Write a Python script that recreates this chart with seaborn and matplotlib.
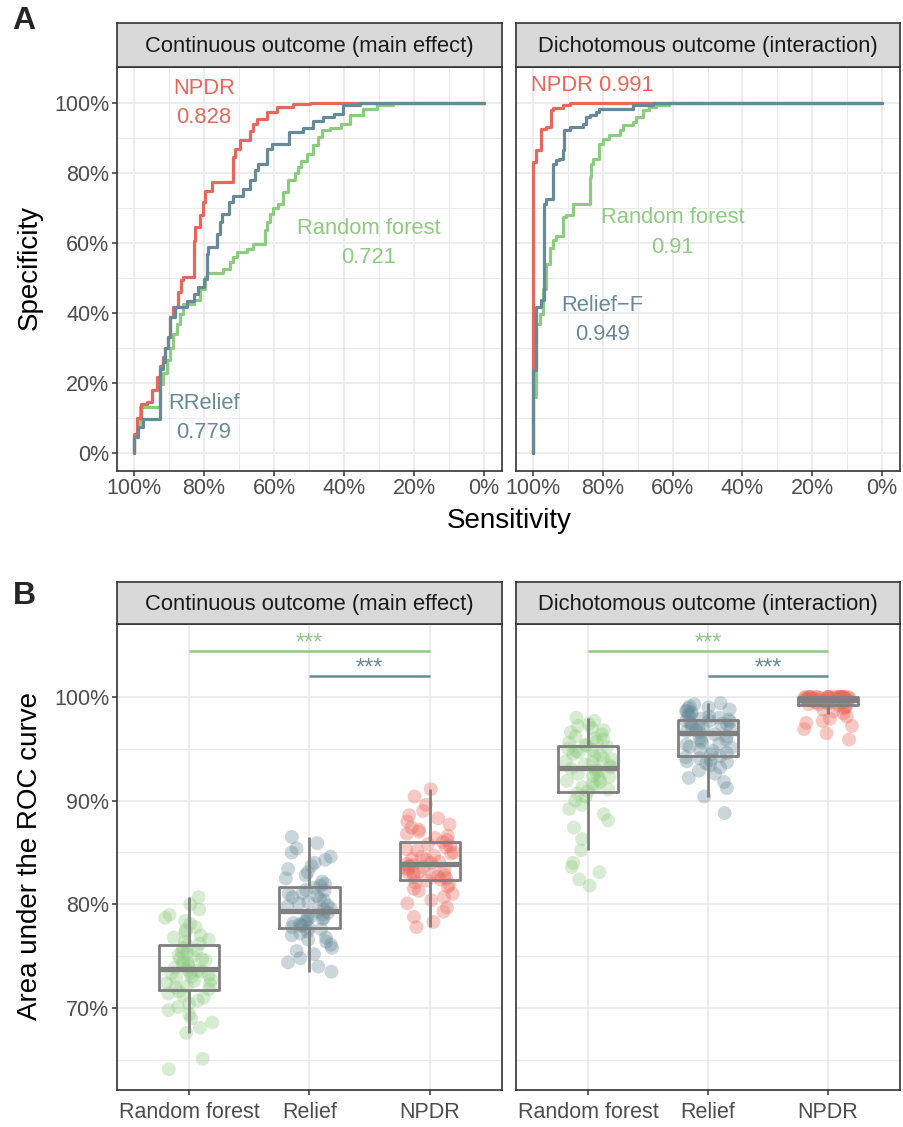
import numpy as np
import pandas as pd
import matplotlib
matplotlib.use("Agg")
import matplotlib.pyplot as plt
import seaborn as sns

sns.set_style("white")
plt.rcParams['font.family'] = ['Liberation Sans', 'DejaVu Sans']

# ---------------- data ----------------
facets = ["Continuous outcome (main effect)", "Dichotomous outcome (interaction)"]
methods = ["Random forest", "Relief", "NPDR"]
colors = {"Random forest": "#8DCB80", "Relief": "#688A98", "NPDR": "#E9665A"}

# ROC curves (sensitivity, specificity), panel A
roc_cont_rf_sens = [1.0, 0.99, 0.983, 0.959, 0.926, 0.916, 0.907, 0.897, 0.888, 0.878, 0.869, 0.859, 0.83, 0.811, 0.797,
                    0.792, 0.745, 0.726, 0.716, 0.707, 0.678, 0.659, 0.626, 0.621, 0.612, 0.602, 0.588, 0.575, 0.559,
                    0.541, 0.531, 0.522, 0.507, 0.488, 0.474, 0.464, 0.44, 0.41, 0.383, 0.345, 0.307, 0.259, 0.211, 0.0]
roc_cont_rf_spec = [0.0, 0.05, 0.084, 0.131, 0.131, 0.198, 0.23, 0.265, 0.3, 0.341, 0.37, 0.398, 0.425, 0.436, 0.47,
                    0.503, 0.515, 0.527, 0.545, 0.56, 0.575, 0.584, 0.598, 0.636, 0.66, 0.684, 0.7, 0.712, 0.745,
                    0.779, 0.8, 0.817, 0.835, 0.855, 0.88, 0.903, 0.922, 0.93, 0.941, 0.965, 0.984, 0.993, 1.0, 1.0]
roc_cont_npdr_sens = [1.0, 0.992, 0.98, 0.964, 0.95, 0.935, 0.926, 0.918, 0.911, 0.904, 0.897, 0.888, 0.873, 0.866,
                      0.859, 0.83, 0.826, 0.811, 0.803, 0.797, 0.778, 0.716, 0.712, 0.697, 0.669, 0.66, 0.65, 0.621,
                      0.592, 0.545, 0.497, 0.4, 0.0]
roc_cont_npdr_spec = [0.0, 0.055, 0.1, 0.14, 0.146, 0.18, 0.217, 0.25, 0.274, 0.3, 0.331, 0.389, 0.417, 0.46, 0.493,
                      0.503, 0.607, 0.645, 0.68, 0.717, 0.75, 0.774, 0.846, 0.87, 0.893, 0.92, 0.94, 0.955, 0.974,
                      0.989, 0.998, 1.0, 1.0]
roc_cont_relief_sens = [1.0, 1.0, 0.988, 0.973, 0.926, 0.926, 0.918, 0.911, 0.904, 0.897, 0.883, 0.85, 0.83, 0.816,
                        0.8, 0.792, 0.788, 0.764, 0.755, 0.75, 0.73, 0.716, 0.69, 0.669, 0.655, 0.645, 0.621, 0.607,
                        0.556, 0.516, 0.49, 0.459, 0.43, 0.402, 0.354, 0.307, 0.0]
roc_cont_relief_spec = [0.0, 0.017, 0.046, 0.074, 0.098, 0.222, 0.24, 0.26, 0.3, 0.331, 0.389, 0.417, 0.435, 0.455,
                        0.475, 0.498, 0.57, 0.589, 0.625, 0.66, 0.684, 0.717, 0.735, 0.755, 0.78, 0.808, 0.827, 0.87,
                        0.884, 0.917, 0.93, 0.95, 0.96, 0.97, 0.993, 1.0, 1.0]

roc_dich_rf_sens = [1.0, 0.99, 0.99, 0.981, 0.971, 0.962, 0.952, 0.943, 0.933, 0.914, 0.905, 0.886, 0.867, 0.838, 0.833,
                    0.829, 0.81, 0.8, 0.781, 0.752, 0.743, 0.714, 0.705, 0.686, 0.667, 0.648, 0.61, 0.495, 0.0]
roc_dich_rf_spec = [0.0, 0.16, 0.293, 0.37, 0.398, 0.47, 0.541, 0.585, 0.608, 0.62, 0.674, 0.679, 0.712, 0.712, 0.79,
                    0.827, 0.841, 0.884, 0.898, 0.908, 0.922, 0.936, 0.946, 0.96, 0.979, 0.988, 0.995, 1.0, 1.0]
roc_dich_npdr_sens = [1.0, 1.0, 0.99, 0.976, 0.962, 0.948, 0.943, 0.914, 0.895, 0.876, 0.0]
roc_dich_npdr_spec = [0.0, 0.712, 0.831, 0.865, 0.927, 0.932, 0.979, 0.986, 0.993, 1.0, 1.0]
roc_dich_relief_sens = [1.0, 1.0, 0.99, 0.976, 0.967, 0.962, 0.943, 0.943, 0.933, 0.924, 0.914, 0.91, 0.895, 0.857,
                        0.848, 0.838, 0.819, 0.81, 0.714, 0.657, 0.543, 0.0]
roc_dich_relief_spec = [0.0, 0.184, 0.236, 0.417, 0.436, 0.712, 0.727, 0.779, 0.827, 0.836, 0.841, 0.865, 0.922,
                        0.931, 0.941, 0.96, 0.965, 0.974, 0.984, 0.993, 1.0, 1.0]

# AUC labels in panel A
auc_labels_cont = {"Random forest": "Random forest\n0.721", "NPDR": "NPDR\n0.828", "Relief": "RRelief\n0.779"}
auc_labels_dich = {"Random forest": "Random forest\n0.91", "NPDR": "NPDR 0.991", "Relief": "Relief\u2212F\n0.949"}
auc_pos_cont = {"Random forest": (0.33, 0.60), "NPDR": (0.80, 1.00), "Relief": (0.80, 0.10)}
auc_pos_dich = {"Random forest": (0.60, 0.63), "NPDR": (0.83, 1.05), "Relief": (0.80, 0.38)}

# AUC replicates, panel B
auc_cont_rf = [0.641, 0.651, 0.676, 0.681, 0.686, 0.690, 0.694, 0.698, 0.701, 0.704, 0.707, 0.710, 0.712, 0.714, 0.716,
               0.718, 0.720, 0.721, 0.723, 0.724, 0.726, 0.727, 0.729, 0.730, 0.732, 0.733, 0.734, 0.735, 0.736, 0.737,
               0.739, 0.740, 0.741, 0.743, 0.744, 0.746, 0.747, 0.748, 0.750, 0.751, 0.753, 0.754, 0.756, 0.758, 0.760,
               0.762, 0.764, 0.766, 0.768, 0.770, 0.773, 0.775, 0.778, 0.781, 0.784, 0.787, 0.790, 0.795, 0.800, 0.807]
auc_cont_relief = [0.735, 0.740, 0.744, 0.748, 0.752, 0.755, 0.758, 0.761, 0.764, 0.766, 0.768, 0.770, 0.772, 0.774, 0.776,
                   0.777, 0.778, 0.779, 0.780, 0.781, 0.782, 0.783, 0.785, 0.786, 0.787, 0.788, 0.789, 0.790, 0.792, 0.793,
                   0.795, 0.796, 0.798, 0.799, 0.801, 0.802, 0.804, 0.805, 0.807, 0.808, 0.810, 0.811, 0.813, 0.814, 0.816,
                   0.818, 0.820, 0.822, 0.825, 0.828, 0.831, 0.834, 0.837, 0.840, 0.843, 0.846, 0.850, 0.854, 0.859, 0.865]
auc_cont_npdr = [0.778, 0.783, 0.788, 0.793, 0.797, 0.801, 0.804, 0.807, 0.810, 0.813, 0.815, 0.817, 0.819, 0.821, 0.823,
                 0.824, 0.825, 0.826, 0.827, 0.828, 0.829, 0.830, 0.831, 0.832, 0.833, 0.834, 0.835, 0.836, 0.837, 0.838,
                 0.839, 0.840, 0.841, 0.843, 0.844, 0.846, 0.847, 0.849, 0.850, 0.852, 0.853, 0.855, 0.856, 0.858, 0.860,
                 0.862, 0.864, 0.866, 0.868, 0.870, 0.872, 0.874, 0.877, 0.880, 0.883, 0.886, 0.890, 0.896, 0.904, 0.911]
auc_dich_rf = [0.818, 0.824, 0.831, 0.836, 0.840, 0.852, 0.863, 0.874, 0.881, 0.887, 0.892, 0.896, 0.900, 0.904, 0.907,
               0.909, 0.911, 0.913, 0.914, 0.916, 0.918, 0.919, 0.921, 0.923, 0.924, 0.926, 0.927, 0.929, 0.930, 0.931,
               0.932, 0.934, 0.935, 0.937, 0.938, 0.940, 0.941, 0.943, 0.944, 0.945, 0.947, 0.948, 0.949, 0.950, 0.952,
               0.953, 0.954, 0.956, 0.957, 0.959, 0.960, 0.962, 0.964, 0.966, 0.968, 0.970, 0.972, 0.974, 0.977, 0.980]
auc_dich_relief = [0.888, 0.904, 0.912, 0.918, 0.922, 0.926, 0.929, 0.932, 0.934, 0.936, 0.937, 0.938, 0.939, 0.941, 0.942,
                   0.943, 0.945, 0.946, 0.948, 0.949, 0.951, 0.952, 0.954, 0.955, 0.956, 0.958, 0.959, 0.960, 0.962, 0.964,
                   0.966, 0.967, 0.968, 0.969, 0.970, 0.971, 0.972, 0.973, 0.974, 0.974, 0.975, 0.976, 0.977, 0.977, 0.978,
                   0.979, 0.980, 0.981, 0.982, 0.983, 0.984, 0.985, 0.986, 0.987, 0.988, 0.989, 0.990, 0.991, 0.993, 0.994]
auc_dich_npdr = [0.959, 0.965, 0.969, 0.972, 0.975, 0.977, 0.979, 0.981, 0.984, 0.986, 0.988, 0.989, 0.990, 0.991, 0.992,
                 0.993, 0.993, 0.994, 0.994, 0.995, 0.995, 0.995, 0.996, 0.996, 0.996, 0.996, 0.997, 0.997, 0.997, 0.997,
                 0.997, 0.998, 0.998, 0.998, 0.998, 0.998, 0.999, 0.999, 0.999, 0.999, 0.999, 1.000, 1.000, 1.000, 1.000,
                 1.000, 1.000, 1.000, 1.000, 1.000, 1.000, 1.000, 1.000, 1.000, 1.000, 1.000, 1.000, 1.000, 1.000, 1.000]

# significance brackets (from, to, height, label)
sig_levels = [("Random forest", "NPDR", 1.044, "***"), ("Relief", "NPDR", 1.020, "***")]

y_ticks_A = [0, 0.2, 0.4, 0.6, 0.8, 1.0]
y_labels_A = ["0%", "20%", "40%", "60%", "80%", "100%"]
x_ticks_A = [1.0, 0.8, 0.6, 0.4, 0.2, 0.0]
x_labels_A = ["100%", "80%", "60%", "40%", "20%", "0%"]
y_ticks_B = [0.7, 0.8, 0.9, 1.0]
y_labels_B = ["70%", "80%", "90%", "100%"]

roc = {
    facets[0]: {"Random forest": (roc_cont_rf_sens, roc_cont_rf_spec),
                "NPDR": (roc_cont_npdr_sens, roc_cont_npdr_spec),
                "Relief": (roc_cont_relief_sens, roc_cont_relief_spec)},
    facets[1]: {"Random forest": (roc_dich_rf_sens, roc_dich_rf_spec),
                "NPDR": (roc_dich_npdr_sens, roc_dich_npdr_spec),
                "Relief": (roc_dich_relief_sens, roc_dich_relief_spec)},
}
auc_labels = {facets[0]: auc_labels_cont, facets[1]: auc_labels_dich}
auc_pos = {facets[0]: auc_pos_cont, facets[1]: auc_pos_dich}

rows = []
for f, d in zip(facets, [{"Random forest": auc_cont_rf, "Relief": auc_cont_relief, "NPDR": auc_cont_npdr},
                         {"Random forest": auc_dich_rf, "Relief": auc_dich_relief, "NPDR": auc_dich_npdr}]):
    for m, vals in d.items():
        for v in vals:
            rows.append((f, m, v))
df_auc = pd.DataFrame(rows, columns=["facet", "method", "auc"])

# ---------------- layout ----------------
W, H = 904, 1127
fig = plt.figure(figsize=(W / 100, H / 100), dpi=100)

def rect(x0, y0, x1, y1):
    return [x0 / W, 1 - y1 / H, (x1 - x0) / W, (y1 - y0) / H]

BORDER = "#333333"
GRID = "#EBEBEB"
TICKC = "#4D4D4D"

def style_panel(ax):
    ax.set_facecolor("white")
    for s in ax.spines.values():
        s.set_color(BORDER)
        s.set_linewidth(1.2)
        s.set_visible(True)
    ax.set_axisbelow(True)
    ax.grid(which="major", color=GRID, linewidth=1.3)
    ax.grid(which="minor", color=GRID, linewidth=0.7)
    ax.tick_params(which="major", length=3.5, width=1.1, color=BORDER, labelsize=15.5,
                   labelcolor=TICKC, pad=2, left=True, bottom=True)
    ax.tick_params(which="minor", length=0)

def strip(x0, y0, x1, y1, text):
    s = fig.add_axes(rect(x0, y0, x1, y1))
    s.set_facecolor("#D9D9D9")
    for sp in s.spines.values():
        sp.set_color(BORDER)
        sp.set_linewidth(1.2)
    s.set_xticks([]); s.set_yticks([])
    s.text(0.5, 0.47, text, ha="center", va="center", fontsize=15.8, color="#1A1A1A", transform=s.transAxes)

panel_x = [(117, 502), (516, 900)]

# ---- Panel A ----
for i, f in enumerate(facets):
    x0, x1 = panel_x[i]
    ax = fig.add_axes(rect(x0, 67, x1, 470.5))
    strip(x0, 23, x1, 67, f)
    for m in ["Random forest", "NPDR", "Relief"]:
        sens, spec = roc[f][m]
        sns.lineplot(x=sens, y=spec, sort=False, estimator=None, color=colors[m], linewidth=2.3,
                     drawstyle="steps-pre", ax=ax)
    for m in ["NPDR", "Random forest", "Relief"]:
        px, py = auc_pos[f][m]
        ax.text(px, py, auc_labels[f][m], color=colors[m], ha="center", va="center", fontsize=15.8,
                linespacing=1.55)
    ax.set_xlim(1.0486, -0.0514)
    ax.set_ylim(-0.05, 1.103)
    ax.set_xticks(x_ticks_A)
    ax.set_xticklabels(x_labels_A)
    ax.set_xticks([0.9, 0.7, 0.5, 0.3, 0.1], minor=True)
    ax.set_yticks(y_ticks_A)
    ax.set_yticks([0.1, 0.3, 0.5, 0.7, 0.9], minor=True)
    if i == 0:
        ax.set_yticklabels(y_labels_A)
    else:
        ax.set_yticklabels([])
    ax.set_xlabel(""); ax.set_ylabel("")
    style_panel(ax)
    if i == 1:
        ax.tick_params(axis="y", which="major", length=0)

# ---- Panel B ----
pos = {m: k for k, m in enumerate(methods)}
np.random.seed(7)
for i, f in enumerate(facets):
    x0, x1 = panel_x[i]
    ax = fig.add_axes(rect(x0, 624, x1, 1090))
    strip(x0, 582, x1, 624, f)
    sub = df_auc[df_auc.facet == f]
    sns.stripplot(data=sub, x="method", y="auc", hue="method", order=methods, hue_order=methods,
                  palette=colors, jitter=0.2, size=10, alpha=0.35, linewidth=0, legend=False, ax=ax, zorder=1)
    sns.boxplot(data=sub, x="method", y="auc", order=methods, fill=False, color="#7F7F7F", width=0.5,
                showfliers=False, showcaps=False, linewidth=2.0,
                medianprops=dict(linewidth=3.8, color="#7F7F7F"), ax=ax)
    for a, b, h, lab in sig_levels:
        c = colors[a]
        ax.plot([pos[a], pos[b]], [h, h], color=c, linewidth=1.8, solid_capstyle="butt")
        ax.text((pos[a] + pos[b]) / 2, h + 0.0015, lab, color=c, ha="center", va="baseline", fontsize=17)
    ax.set_xlim(-0.6, 2.6)
    ax.set_ylim(0.6209, 1.0704)
    ax.set_xticks([0, 1, 2])
    ax.set_xticklabels(methods)
    ax.set_yticks(y_ticks_B)
    ax.set_yticks([0.65, 0.75, 0.85, 0.95], minor=True)
    if i == 0:
        ax.set_yticklabels(y_labels_B)
    else:
        ax.set_yticklabels([])
    ax.set_xlabel(""); ax.set_ylabel("")
    style_panel(ax)
    ax.tick_params(axis="x", pad=5)
    if i == 1:
        ax.tick_params(axis="y", which="major", length=0)

# ---- shared labels ----
fig.text(30 / W, 1 - 268 / H, "Specificity", rotation=90, ha="center", va="center", fontsize=20, color="black")
fig.text(509 / W, 1 - 521 / H, "Sensitivity", ha="center", va="center", fontsize=20, color="black")
fig.text(30 / W, 1 - 856 / H, "Area under the ROC curve", rotation=90, ha="center", va="center", fontsize=20,
         color="black")
fig.text(24 / W, 1 - 21 / H, "A", ha="center", va="center", fontsize=23, fontweight="bold")
fig.text(24 / W, 1 - 596 / H, "B", ha="center", va="center", fontsize=23, fontweight="bold")

fig.savefig("out.png", dpi=100)
